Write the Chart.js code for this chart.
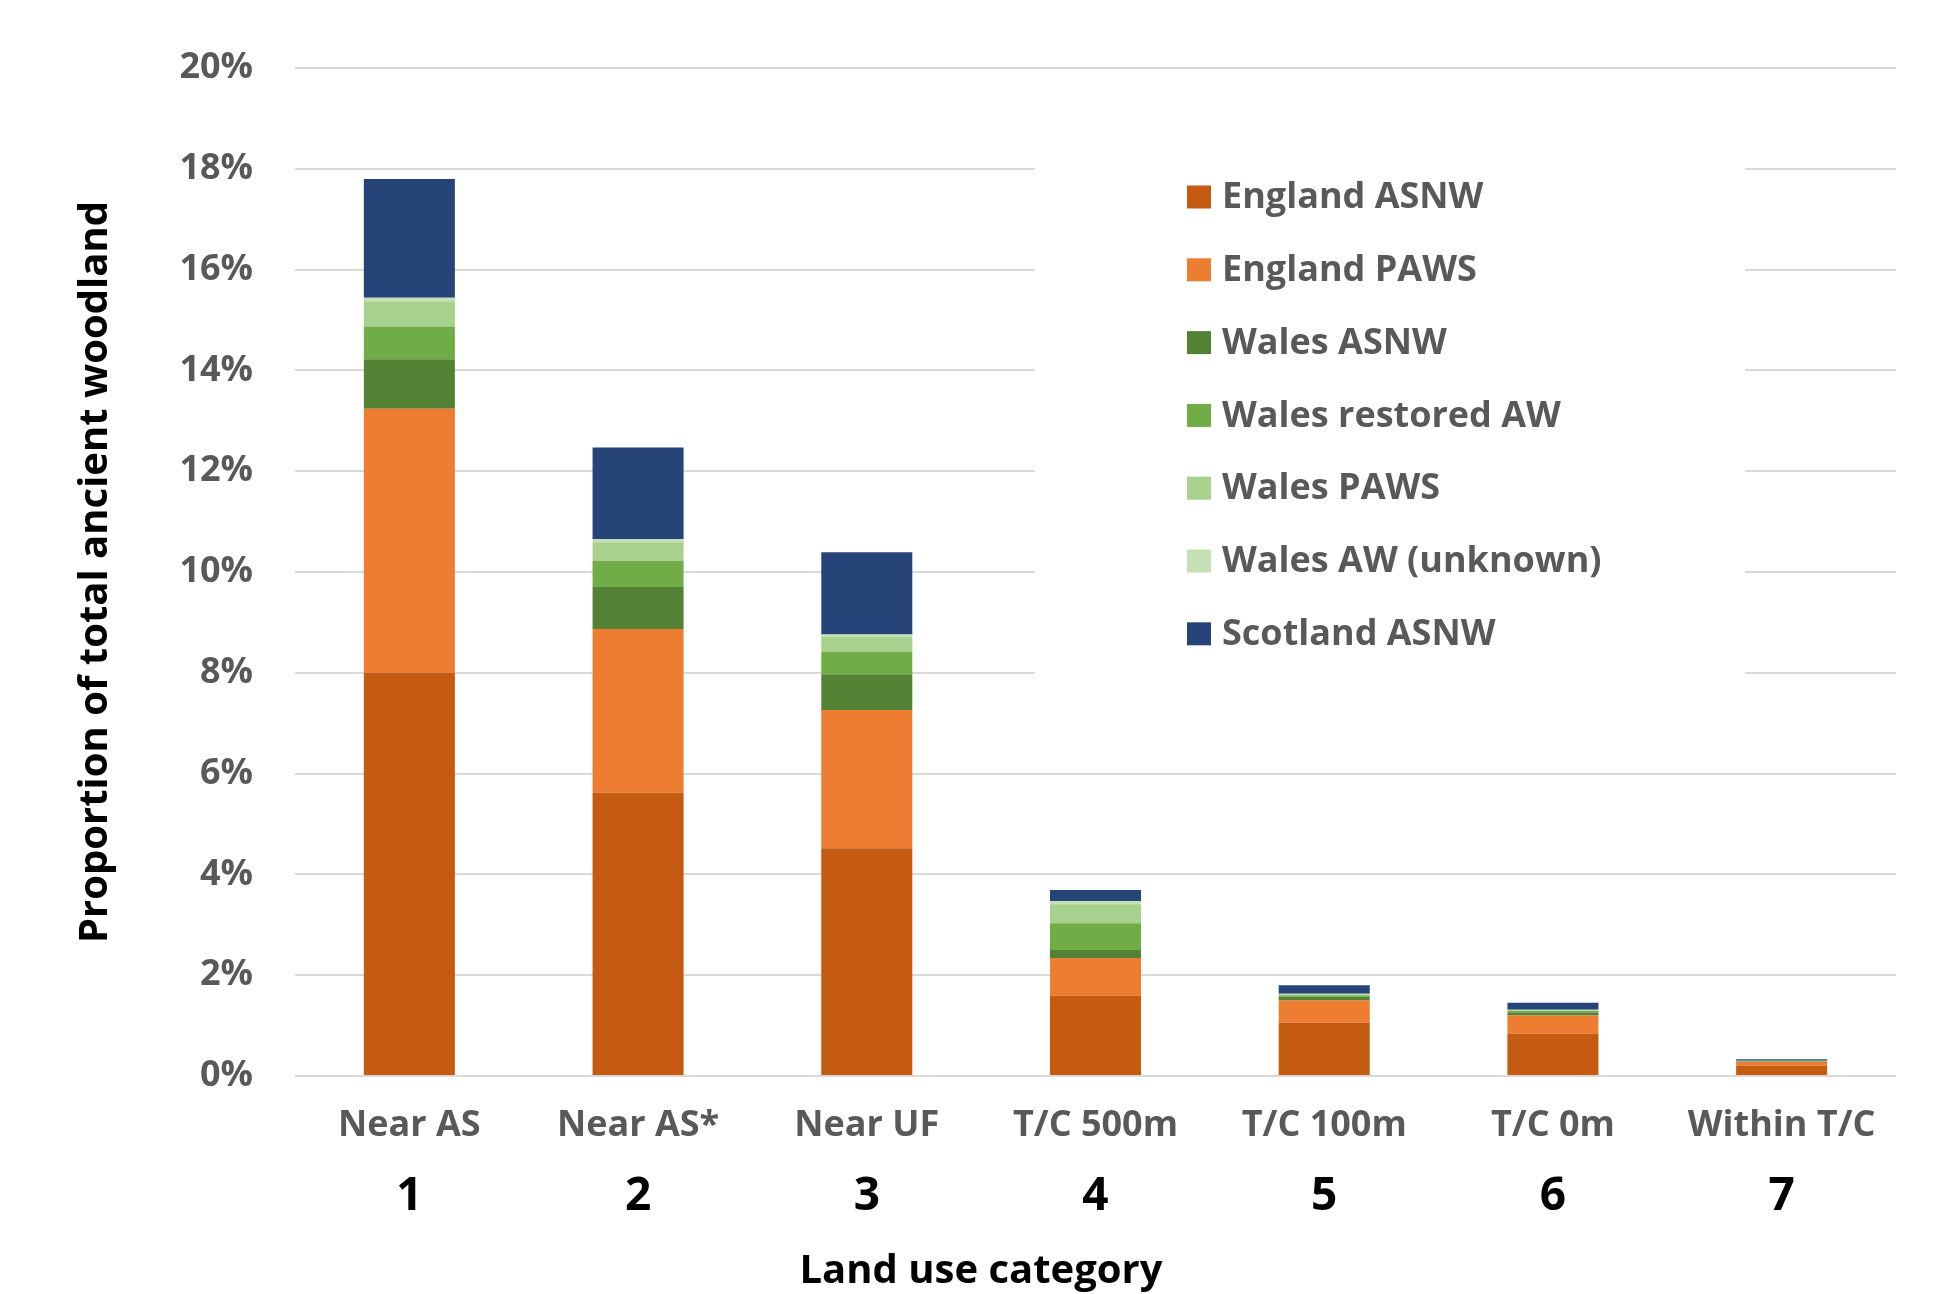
<!DOCTYPE html>
<html>
<head>
<meta charset="utf-8">
<title>Proportion of total ancient woodland by land use category</title>
<script src="https://cdn.jsdelivr.net/npm/chart.js@4/dist/chart.umd.min.js"></script>
<style>
  html, body { margin: 0; padding: 0; background: #fff; }
  #wrap { width: 1933px; height: 1294px; }
</style>
</head>
<body>
<div id="wrap"><canvas id="chart" width="1933" height="1294"></canvas></div>
<script>
// categories along the x axis (two label rows)
const categories = ['Near AS', 'Near AS*', 'Near UF', 'T/C 500m', 'T/C 100m', 'T/C 0m', 'Within T/C'];
const categoryNumbers = ['1', '2', '3', '4', '5', '6', '7'];

// series values, % of total ancient woodland
const englandAsnw   = [8.00, 5.62, 4.52, 1.59, 1.06, 0.84, 0.205];
const englandPaws   = [5.24, 3.25, 2.74, 0.75, 0.44, 0.36, 0.075];
const walesAsnw     = [0.98, 0.83, 0.71, 0.16, 0.07, 0.06, 0.010];
const walesRestored = [0.65, 0.52, 0.445, 0.53, 0.03, 0.03, 0.005];
const walesPaws     = [0.50, 0.37, 0.305, 0.38, 0.02, 0.015, 0.005];
const walesUnknown  = [0.07, 0.06, 0.04, 0.06, 0.01, 0.01, 0.003];
const scotlandAsnw  = [2.36, 1.82, 1.63, 0.22, 0.17, 0.14, 0.030];

const seriesNames = ['England ASNW', 'England PAWS', 'Wales ASNW', 'Wales restored AW',
                     'Wales PAWS', 'Wales AW (unknown)', 'Scotland ASNW'];
const seriesValues = [englandAsnw, englandPaws, walesAsnw, walesRestored,
                      walesPaws, walesUnknown, scotlandAsnw];
const seriesColors = ['#c55a11', '#ed7d31', '#548235', '#70ad47', '#a9d18e', '#c5e0b4', '#264478'];

// y axis: 0% .. 20% every 2%
const yMax = 20;
const yStep = 2;

const xTitle = 'Land use category';
const yTitle = 'Proportion of total ancient woodland';

const FONT = "'Open Sans', 'Noto Sans', sans-serif";
const GREY = '#595959';

// legend drawn inside the plot area on a white panel, plus the x title
// (which sits left of the plot centre in the original)
const extras = {
  id: 'extras',
  afterDatasetsDraw(chart) {
    const ctx = chart.ctx;
    ctx.save();
    ctx.fillStyle = '#ffffff';
    ctx.fillRect(1035, 156, 710, 528);
    ctx.font = 'bold 36px ' + FONT;
    ctx.textAlign = 'left';
    ctx.textBaseline = 'middle';
    chart.data.datasets.forEach((ds, i) => {
      const cy = 197 + i * 72.8;
      ctx.fillStyle = ds.backgroundColor;
      ctx.fillRect(1187, cy - 11.5, 24, 23);
      ctx.fillStyle = GREY;
      ctx.fillText(ds.label, 1222, cy + 1);
    });

    ctx.font = 'bold 40px ' + FONT;
    ctx.textAlign = 'center';
    ctx.fillStyle = '#000';
    ctx.fillText(xTitle, 981, 1272);
    ctx.restore();
  }
};

new Chart(document.getElementById('chart'), {
  type: 'bar',
  data: {
    labels: categories,
    datasets: seriesNames.map((name, i) => ({
      label: name,
      data: seriesValues[i],
      backgroundColor: seriesColors[i],
      borderWidth: 0,
      barPercentage: 0.398,
      categoryPercentage: 1.0
    }))
  },
  options: {
    responsive: false,
    animation: false,
    layout: { padding: { left: 0, top: 68, right: 37, bottom: 70 } },
    plugins: {
      legend: { display: false },
      tooltip: { enabled: false },
      title: { display: false }
    },
    scales: {
      x: {
        stacked: true,
        weight: 0,
        afterFit(scale) { scale.height = 72; },
        grid: { display: false, drawTicks: false },
        border: { display: false },
        ticks: {
          color: GREY,
          padding: 28,
          maxRotation: 0,
          autoSkip: false,
          font: { family: FONT, size: 36, weight: 'bold' }
        }
      },
      x2: {
        type: 'category',
        position: 'bottom',
        labels: categoryNumbers,
        weight: 1,
        afterFit(scale) { scale.height = 76; },
        grid: { display: false, drawTicks: false },
        border: { display: false },
        ticks: {
          color: '#000',
          padding: 21,
          maxRotation: 0,
          autoSkip: false,
          font: { family: FONT, size: 46, weight: 'bold' }
        }
      },
      y: {
        stacked: true,
        min: 0,
        max: yMax,
        afterFit(scale) { scale.width = 295; },
        grid: { color: '#d9d9d9', lineWidth: 2, drawTicks: false },
        border: { display: false },
        ticks: {
          stepSize: yStep,
          color: GREY,
          padding: 42,
          font: { family: FONT, size: 36, weight: 'bold' },
          callback: v => v + '%'
        },
        title: {
          display: true,
          text: yTitle,
          color: '#000',
          font: { family: FONT, size: 40, weight: 'bold' },
          padding: { top: 72, bottom: 0 }
        }
      }
    }
  },
  plugins: [extras]
});
</script>
</body>
</html>
